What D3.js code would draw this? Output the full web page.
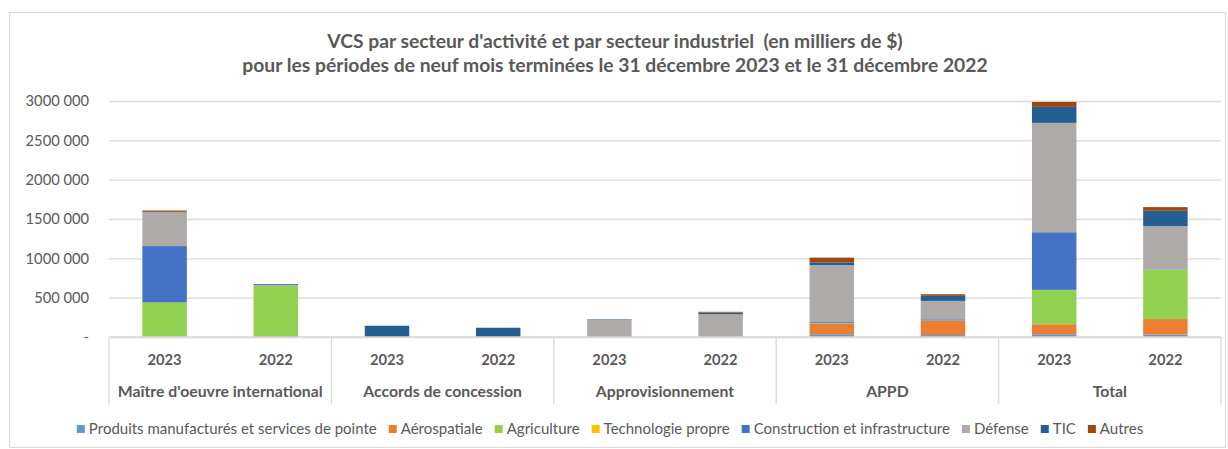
<!DOCTYPE html>
<html>
<head>
<meta charset="utf-8">
<script src="https://cdn.jsdelivr.net/npm/d3@7"></script>
<style>
  body { margin: 0; background: #fff; }
  text { font-family: Lato, "Open Sans", sans-serif; fill: #595959; white-space: pre; }
</style>
</head>
<body>
<script>
// Chart size
var svgWidth = 1228;
var svgHeight = 449;

// Categories (two levels)
var groups = ["Maître d'oeuvre international", "Accords de concession", "Approvisionnement", "APPD", "Total"];
var years = ["2023", "2022"];

// Series names, one value per group/year (2023, 2022 for each group)
var seriesNames = ["Produits manufacturés et services de pointe", "Aérospatiale", "Agriculture",
  "Technologie propre", "Construction et infrastructure", "Défense", "TIC", "Autres"];
var seriesColors = ["#5B9BD5", "#ED7D31", "#92D050", "#FFC000", "#4472C4", "#AEAAAA", "#255E91", "#9E480E"];

var produits     = [0, 0, 0, 0, 0, 0, 35000, 25000, 35000, 30000];
var aerospatiale = [0, 12000, 0, 0, 0, 0, 132000, 180000, 127000, 198000];
var agriculture  = [440000, 637000, 0, 0, 0, 0, 5000, 5000, 435000, 627000];
var techPropre   = [0, 0, 0, 0, 0, 0, 2000, 0, 2000, 0];
var construction = [716000, 5000, 0, 0, 8000, 0, 15000, 15000, 733000, 5000];
var defense      = [435000, 8000, 0, 0, 215000, 290000, 725000, 234000, 1390000, 550000];
var tic          = [0, 10000, 143000, 118000, 5000, 20000, 35000, 64000, 203000, 194000];
var autres       = [17000, 0, 0, 0, 0, 10000, 60000, 21000, 63000, 47000];

var seriesValues = [produits, aerospatiale, agriculture, techPropre, construction, defense, tic, autres];

// Y ticks
var yTicks = [0, 500000, 1000000, 1500000, 2000000, 2500000, 3000000];
var yTickLabels = ["-", "500 000", "1000 000", "1500 000", "2000 000", "2500 000", "3000 000"];

var titleLines = ["VCS par secteur d'activité et par secteur industriel  (en milliers de $)",
  "pour les périodes de neuf mois terminées le 31 décembre 2023 et le 31 décembre 2022"];

// plot area
var plot = { left: 109, right: 1221, top: 101, bottom: 337 };

var svg = d3.select("body").append("svg")
  .attr("width", svgWidth)
  .attr("height", svgHeight);

// outer border
svg.append("rect")
  .attr("x", 9.5).attr("y", 12.5)
  .attr("width", svgWidth - 12).attr("height", svgHeight - 14)
  .attr("fill", "#fff")
  .attr("stroke", "#D9D9D9");

// title
svg.append("g").selectAll("text")
  .data(titleLines)
  .join("text")
  .attr("x", 615)
  .attr("y", (d, i) => 48 + i * 24)
  .attr("text-anchor", "middle")
  .attr("font-size", 19.3)
  .attr("font-weight", "bold")
  .text(d => d);

// rows for stacking
var rows = [];
groups.forEach(function(g, gi) {
  years.forEach(function(y, yi) {
    var row = { group: g, year: y, idx: gi * 2 + yi };
    seriesNames.forEach(function(s, si) { row[s] = seriesValues[si][gi * 2 + yi]; });
    rows.push(row);
  });
});

var xGroup = d3.scaleBand()
  .domain(groups)
  .range([plot.left, plot.right]);

var xYear = d3.scaleBand()
  .domain(years)
  .range([0, xGroup.bandwidth()])
  .paddingInner(0.6)
  .paddingOuter(0.3);

var yScale = d3.scaleLinear()
  .domain([0, 3000000])
  .range([plot.bottom, plot.top]);

// gridlines + y labels
var leftAxis = d3.axisLeft(yScale)
  .tickValues(yTicks)
  .tickSize(-(plot.right - plot.left))
  .tickPadding(20)
  .tickFormat((d, i) => yTickLabels[i]);

svg.append("g")
  .attr("transform", `translate(${plot.left}, 0)`)
  .call(leftAxis)
  .call(g => g.select(".domain").remove())
  .call(g => g.selectAll(".tick line").attr("stroke", "#D9D9D9").attr("stroke-width", 1.3))
  .call(g => g.selectAll(".tick text")
    .attr("font-size", 14.7)
    .attr("font-family", "Lato, sans-serif")
    .attr("fill", "#595959"));

// stacked bars
var stack = d3.stack().keys(seriesNames);
var stacked = stack(rows);

svg.append("g").selectAll("g")
  .data(stacked)
  .join("g")
  .attr("fill", (d, i) => seriesColors[i])
  .selectAll("rect")
  .data(d => d)
  .join("rect")
  .attr("x", d => xGroup(d.data.group) + xYear(d.data.year))
  .attr("width", xYear.bandwidth())
  .attr("y", d => yScale(d[1]))
  .attr("height", d => yScale(d[0]) - yScale(d[1]));

// category axis (two levels)
var axisG = svg.append("g");
axisG.append("line")
  .attr("x1", plot.left).attr("x2", plot.right)
  .attr("y1", plot.bottom).attr("y2", plot.bottom)
  .attr("stroke", "#D9D9D9").attr("stroke-width", 1.3);

var bounds = groups.map(g => xGroup(g)).concat([plot.right]);
axisG.selectAll(".sep")
  .data(bounds)
  .join("line")
  .attr("class", "sep")
  .attr("x1", d => d).attr("x2", d => d)
  .attr("y1", plot.bottom).attr("y2", 404)
  .attr("stroke", "#D9D9D9").attr("stroke-width", 1.3);

axisG.selectAll(".yr")
  .data(rows)
  .join("text")
  .attr("class", "yr")
  .attr("x", d => xGroup(d.group) + xYear(d.year) + xYear.bandwidth() / 2)
  .attr("y", 365)
  .attr("text-anchor", "middle")
  .attr("font-size", 14.7)
  .attr("font-weight", "bold")
  .text(d => d.year);

axisG.selectAll(".grp")
  .data(groups)
  .join("text")
  .attr("class", "grp")
  .attr("x", d => xGroup(d) + xGroup.bandwidth() / 2)
  .attr("y", 397)
  .attr("text-anchor", "middle")
  .attr("font-size", 15.8)
  .attr("font-weight", "bold")
  .text(d => d);

// legend
var legend = svg.append("g").attr("transform", "translate(0, 429)");
var items = legend.selectAll("g")
  .data(seriesNames)
  .join("g");
items.append("rect")
  .attr("width", 8).attr("height", 8)
  .attr("y", -4)
  .attr("fill", (d, i) => seriesColors[i]);
items.append("text")
  .attr("x", 12)
  .attr("y", 5)
  .attr("font-size", 15)
  .text(d => d);

var xPos = 0;
var offsets = [];
items.each(function() {
  offsets.push(xPos);
  xPos += 12 + this.querySelector("text").getComputedTextLength() + 12;
});
var startX = 610 - (xPos - 12) / 2;
items.attr("transform", (d, i) => `translate(${startX + offsets[i]}, 0)`);
</script>
</body>
</html>
